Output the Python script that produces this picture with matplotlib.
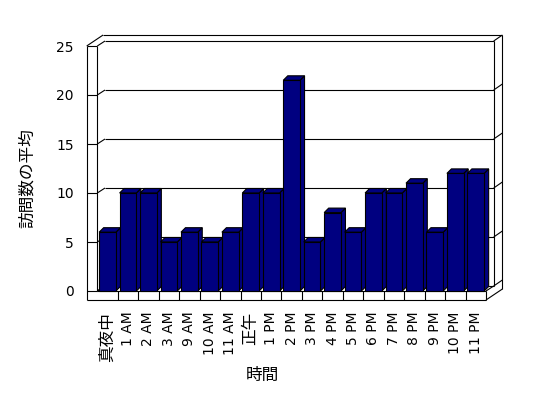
import matplotlib
matplotlib.use('Agg')
import matplotlib.pyplot as plt
from matplotlib.patches import Polygon

categories = ['真夜中', '1 AM', '2 AM', '3 AM', '9 AM', '10 AM', '11 AM', '正午',
              '1 PM', '2 PM', '3 PM', '4 PM', '5 PM', '6 PM', '7 PM', '8 PM',
              '9 PM', '10 PM', '11 PM']
values = [6, 10, 10, 5, 6, 5, 6, 10, 10, 21.5, 5, 8, 6, 10, 10, 11, 6, 12, 12]
y_ticks = [0, 5, 10, 15, 20, 25]
y_label = '訪問数の平均'
x_label = '時間'

plt.rcParams['font.family'] = ['DejaVu Sans', 'Noto Sans CJK JP']

W, H = 548, 398
fig = plt.figure(figsize=(W / 100, H / 100), dpi=100)
L, R, B, T = 97.3, 486.0, 291.0, 46.0   # front plane in pixels
ax = fig.add_axes([L / W, (H - B) / H, (R - L) / W, (B - T) / H])
n = len(categories)
ymax = y_ticks[-1]
ax.set_xlim(-0.5, n - 0.5)
ax.set_ylim(0, ymax)
ax.set_frame_on(False)

sx = (R - L) / n
sy = (B - T) / ymax
def off(dxp, dyp):
    return dxp / sx, dyp / sy

D1 = off(7.7, 5.0)      # floor depth to back wall inner face
D2 = off(8.7, 6.0)      # back wall thickness
Dt = (D1[0] + D2[0], D1[1] + D2[1])
WL = 10.6 / sx          # left wall thickness
FT = 9.0 / sy           # floor thickness
BD = off(4.5, 4.5)      # bar depth

x0, x1 = -0.5, n - 0.5
kw = dict(color='black', lw=0.8, clip_on=False, solid_capstyle='butt', zorder=2)

def seg(p, q, **extra):
    k = dict(kw); k.update(extra)
    ax.plot([p[0], q[0]], [p[1], q[1]], **k)

# walls and floor outline
seg((x0 - WL, -FT), (x0 - WL, ymax))
seg((x0 - WL, ymax), (x0, ymax))
seg((x0, 0), (x0, ymax))
seg((x0 - WL, ymax), (x0 - WL + Dt[0], ymax + Dt[1]))
seg((x0 - WL + Dt[0], ymax + Dt[1]), (x1 + Dt[0], ymax + Dt[1]))
seg((x0, ymax), (x0 + D1[0], ymax + D1[1]))
seg((x0 + D1[0], ymax + D1[1]), (x1 + D1[0], ymax + D1[1]))
seg((x1 + D1[0], ymax + D1[1]), (x1 + Dt[0], ymax + Dt[1]))
seg((x1 + D1[0], ymax + D1[1]), (x1 + D1[0], D1[1]))
seg((x1 + Dt[0], ymax + Dt[1]), (x1 + Dt[0], -FT + Dt[1]))
seg((x1, -FT), (x1 + Dt[0], -FT + Dt[1]))
seg((x1, 0), (x1 + D1[0], D1[1]))
seg((x1, -FT), (x1, 0))
seg((x0 - WL, -FT), (x1, -FT))
seg((x0, 0), (x1, 0))
seg((x0, 0), (x0 + D1[0], D1[1]))
for k in range(n - 1):
    seg((k + 0.5, -FT), (k + 0.5, 0))

# gridlines / ticks
for v in y_ticks[:-1]:
    seg((x0 - WL, v), (x0, v))
    seg((x0, v), (x0 + D1[0], v + D1[1]))
    seg((x0 + D1[0], v + D1[1]), (x1 + D1[0], v + D1[1]), zorder=1.5)
    seg((x1 + D1[0], v + D1[1]), (x1 + Dt[0], v + Dt[1]))

# bars with 3D faces
navy = '#000080'
bars = ax.bar(range(n), values, width=0.82, color=navy, edgecolor='black',
              linewidth=0.8, clip_on=False)
for i, p in enumerate(bars.patches):
    bx, by = p.get_x(), p.get_y()
    bw, bh = p.get_width(), p.get_height()
    top = Polygon([(bx, by + bh), (bx + bw, by + bh),
                   (bx + bw + BD[0], by + bh + BD[1]), (bx + BD[0], by + bh + BD[1])],
                  closed=True, facecolor=navy, edgecolor='black', lw=0.8,
                  clip_on=False, zorder=3 + 2 * i)
    side = Polygon([(bx + bw, by), (bx + bw + BD[0], by + BD[1]),
                    (bx + bw + BD[0], by + bh + BD[1]), (bx + bw, by + bh)],
                   closed=True, facecolor=navy, edgecolor='black', lw=0.8,
                   clip_on=False, zorder=3 + 2 * i)
    ax.add_patch(side)
    ax.add_patch(top)
    p.set_zorder(4 + 2 * i)

# ticks and labels
ax.set_xticks(range(n))
ax.set_xticklabels(categories, rotation=90, fontsize=10)
for t in ax.get_xticklabels():
    if not t.get_text().isascii():
        t.set_fontsize(12)
        t.set_family(['Noto Sans CJK JP', 'DejaVu Sans'])
ax.set_yticks(y_ticks)
ax.set_yticklabels([str(v) for v in y_ticks], fontsize=10)
ax.tick_params(axis='x', length=0, pad=14.9)
ax.tick_params(axis='y', length=0, pad=16.8)

ax.set_xlabel(x_label, fontsize=12, family=['Noto Sans CJK JP', 'DejaVu Sans'])
ax.xaxis.set_label_coords(0.4255, -0.311)
ax.set_ylabel(y_label, fontsize=12, family=['Noto Sans CJK JP', 'DejaVu Sans'])
ax.yaxis.label.set_va('center')
ax.yaxis.set_label_coords(-0.1796, 0.46)

fig.savefig('out.png', dpi=100, facecolor='white')
